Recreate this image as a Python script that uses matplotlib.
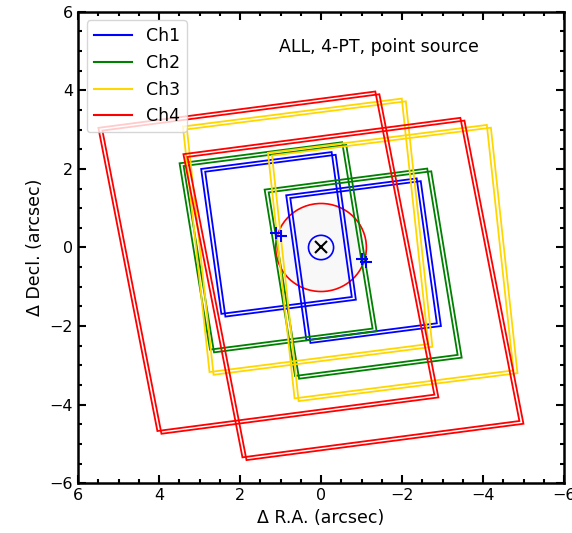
""" MRS 4-PT point source dither footprints for all four channels. """

import numpy as np
import matplotlib
matplotlib.use('Agg')
import matplotlib.pyplot as plt
from matplotlib.patches import Circle, Polygon
from matplotlib.ticker import MultipleLocator

# Channel footprints (arcsec, degrees).
channels = ['Ch1', 'Ch2', 'Ch3', 'Ch4']
colors = ['blue', 'green', 'gold', 'red']
fov_width = [3.25, 4.05, 5.45, 6.9]
fov_height = [3.72, 4.8, 6.28, 7.85]
# tilt of the along-slice edges and of the across-slice edges
edge_angle_h = [7.6, 7.6, 7.5, 7.7]
edge_angle_v = [7.7, 9.0, 6.0, 10.7]
chan_ra = [0.0, 0.01, -0.72, 0.25]
chan_dec = [0.0, -0.33, -0.06, -0.72]

# Dither positions (arcsec).
dither_ra = [1.10, 1.00, -1.00, -1.10]
dither_dec = [0.37, 0.30, -0.30, -0.37]

# Source circles (arcsec).
ring_radius = 1.12
core_radius = 0.31


def footprint(ra, dec, w, h, ah, av):
    """Corners of a tilted box, in (R.A., Decl.) with R.A. increasing left."""
    a, b = np.radians(ah), np.radians(av)
    u = np.array([-w, w, w, -w]) / 2
    v = np.array([h, h, -h, -h]) / 2
    uu = u * np.cos(a) - v * np.sin(b)
    vv = u * np.sin(a) + v * np.cos(b)
    return np.column_stack([ra - uu, dec + vv])


fig = plt.figure(figsize=(5.72, 5.33), dpi=100)
ax = fig.add_axes([0.1364, 0.0932, 0.8497, 0.8849])

# Source and PSF circles.
ax.add_patch(Circle((0, 0), ring_radius, facecolor='#f8f8f8',
                    edgecolor='red', lw=1.2, zorder=1))
ax.add_patch(Circle((0, 0), core_radius, facecolor='none',
                    edgecolor='blue', lw=1.2, zorder=3))

# Footprints at every dither position.
for i, ch in enumerate(channels):
    for k in range(len(dither_ra)):
        xy = footprint(chan_ra[i] + dither_ra[k], chan_dec[i] + dither_dec[k],
                       fov_width[i], fov_height[i],
                       edge_angle_h[i], edge_angle_v[i])
        ax.add_patch(Polygon(xy, closed=True, fill=False,
                             edgecolor=colors[i], lw=1.3, zorder=2))
    ax.plot([], [], color=colors[i], lw=1.5, label=ch)

ax.plot(dither_ra, dither_dec, '+', color='blue', ms=9, mew=1.5, zorder=4)
ax.plot(0, 0, 'x', color='black', ms=8, mew=1.5, zorder=4)

ax.text(-1.44, 5.1, 'ALL, 4-PT, point source', ha='center', va='center',
        fontsize=12.5)

ax.set_xlim(6, -6)
ax.set_ylim(-6, 6)
ax.xaxis.set_major_locator(MultipleLocator(2))
ax.yaxis.set_major_locator(MultipleLocator(2))
ax.xaxis.set_minor_locator(MultipleLocator(0.5))
ax.yaxis.set_minor_locator(MultipleLocator(0.5))
ax.tick_params(which='both', direction='in', top=True, right=True,
               labelsize=11.5, width=1.5)
ax.tick_params(which='major', length=6)
ax.tick_params(which='minor', length=3)
for s in ax.spines.values():
    s.set_linewidth(1.8)

ax.set_xlabel('Δ R.A. (arcsec)', fontsize=12.5)
ax.set_ylabel('Δ Decl. (arcsec)', fontsize=12.5)
ax.legend(loc='upper left', fontsize=12.5, handlelength=2.2)

fig.savefig('out.png', dpi=100)
